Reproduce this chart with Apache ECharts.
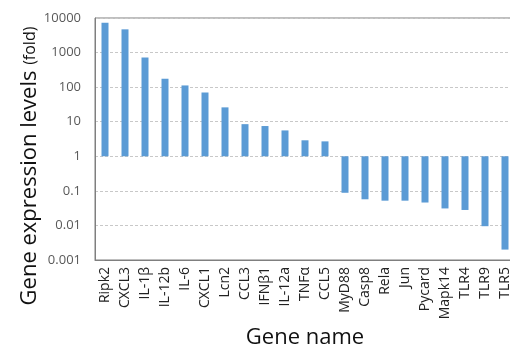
<!DOCTYPE html>
<html><head><meta charset="utf-8">
<script src="https://cdn.jsdelivr.net/npm/echarts@6/dist/echarts.min.js"></script>
<style>html,body{margin:0;padding:0;background:#fff}#c{width:510px;height:347px}</style>
</head><body><div id="c"></div>
<script>
const categories = ['Ripk2','CXCL3','IL-1β','IL-12b','IL-6','CXCL1','Lcn2','CCL3','IFNβ1','IL-12a','TNFα','CCL5','MyD88','Casp8','Rela','Jun','Pycard','Mapk14','TLR4','TLR9','TLR5'];
const foldValues = [7300, 4700, 720, 175, 112, 70, 26, 8.5, 7.5, 5.6, 2.9, 2.7, 0.088, 0.057, 0.052, 0.052, 0.046, 0.031, 0.028, 0.0095, 0.002];
const yTickLabels = ['0.001','0.01','0.1','1','10','100','1000','10000'];
const baseline = 1;

const chart = echarts.init(document.getElementById('c'));
chart.setOption({
  animation: false,
  grid: {left: 95, top: 18, width: 420, height: 242, show: true, borderColor: '#7f7f7f', borderWidth: 1, containLabel: false, outerBoundsMode: 'none'},
  xAxis: {
    type: 'category', data: categories,
    axisLine: {lineStyle: {color: '#7f7f7f'}},
    axisTick: {show: false},
    axisLabel: {rotate: 90, interval: 0, margin: 7, fontSize: 14, color: '#222', fontFamily: 'Open Sans'},
    name: 'Gene name', nameLocation: 'middle', nameGap: 64,
    nameTextStyle: {fontSize: 22, color: '#111', fontFamily: 'Open Sans'}
  },
  yAxis: {
    type: 'log', logBase: 10, min: 0.001, max: 10000,
    axisLine: {show: true, lineStyle: {color: '#7f7f7f'}},
    axisTick: {show: false},
    splitLine: {lineStyle: {color: '#c8c8c8', type: [3, 2]}},
    axisLabel: {margin: 14, fontSize: 13, color: '#595959', fontFamily: 'Open Sans',
      formatter: v => { const i = Math.round(Math.log10(v)) + 3; return yTickLabels[i] || ''; }}
  },
  graphic: [{
    type: 'text', x: 30, y: 166, rotation: Math.PI / 2,
    style: {
      text: '{a|Gene expression levels }{b|(fold)}',
      align: 'center', verticalAlign: 'middle',
      rich: {a: {fontSize: 22, fill: '#111', fontFamily: 'Open Sans'}, b: {fontSize: 16, fill: '#111', fontFamily: 'Open Sans'}}
    }
  }],
  series: [{
    type: 'custom',
    data: foldValues.map((v, i) => [i, v]),
    encode: {x: 0, y: 1},
    renderItem: (params, api) => {
      const p1 = api.coord([api.value(0), api.value(1)]);
      const p0 = api.coord([api.value(0), baseline]);
      const w = 7;
      const y = Math.min(p0[1], p1[1]);
      const h = Math.abs(p1[1] - p0[1]);
      return {type: 'rect', shape: {x: p0[0] - w / 2, y: y, width: w, height: h}, style: {fill: '#5B9BD5'}};
    }
  }]
});
</script></body></html>
